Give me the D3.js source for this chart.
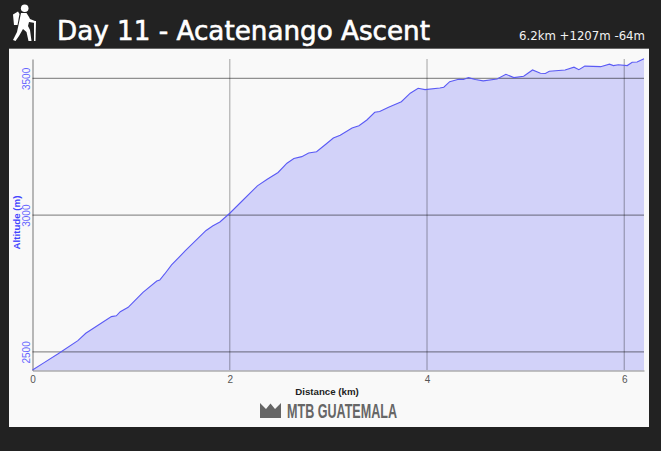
<!DOCTYPE html>
<html><head><meta charset="utf-8">
<script src="https://cdnjs.cloudflare.com/ajax/libs/d3/7.8.5/d3.min.js"></script>
<style>html,body{margin:0;padding:0;background:#222}svg{display:block}</style>
</head><body><svg id="c" width="661" height="451"></svg>
<script>
const titleText = "Day 11 - Acatenango Ascent";
const statsText = "6.2km +1207m -64m";
const brandText = "MTB GUATEMALA";
const xLabel = "Distance (km)";
const yLabel = "Altitude (m)";
const xTicks = [0,2,4,6];
const yTicks = [2500,3000,3500];
const distance = [0,0.11,0.26,0.46,0.54,0.68,0.80,0.85,0.89,0.97,1.12,1.26,1.29,1.34,1.41,1.55,1.76,1.83,1.90,2.00,2.12,2.28,2.38,2.49,2.58,2.65,2.73,2.80,2.88,2.98,3.05,3.12,3.24,3.31,3.39,3.47,3.52,3.61,3.74,3.83,3.91,3.98,4.13,4.17,4.23,4.32,4.37,4.42,4.49,4.57,4.71,4.80,4.88,4.98,5.07,5.15,5.20,5.24,5.40,5.49,5.54,5.60,5.76,5.85,5.89,5.94,6.03,6.08,6.13,6.20];
const altitude = [2434,2459,2493,2541,2568,2601,2629,2632,2647,2663,2718,2759,2763,2785,2818,2870,2944,2961,2975,3007,3050,3107,3131,3156,3190,3207,3214,3227,3232,3261,3282,3292,3319,3327,3348,3376,3379,3395,3415,3446,3464,3459,3465,3468,3488,3497,3496,3503,3496,3491,3498,3515,3503,3508,3531,3519,3518,3526,3531,3541,3532,3545,3543,3552,3547,3550,3547,3559,3560,3572];

const svg = d3.select("#c");
svg.append("rect").attr("width",661).attr("height",451).attr("fill","#222");
svg.append("rect").attr("x",9).attr("y",48).attr("width",640).attr("height",379).attr("fill","#f9f9f9");
svg.append("rect").attr("x",9).attr("y",48).attr("width",640).attr("height",1).attr("fill","#666");

const x = d3.scaleLinear().domain([0,6.2]).range([32.5,644]);
const y = d3.scaleLinear().domain([2432,3571]).range([370.5,59]);
const pts = distance.map((d,i)=>[d,altitude[i]]);

svg.append("path").datum(pts).attr("fill","#d2d2f9")
  .attr("d",d3.area().x(d=>x(d[0])).y0(y.range()[0]).y1(d=>y(d[1])));

const gx = svg.append("g").attr("transform","translate(0,370.5)")
  .call(d3.axisBottom(x).tickValues(xTicks).tickSize(0).tickPadding(5).tickFormat(d3.format("d")));
gx.select(".domain").attr("stroke","#8a8a8a").attr("stroke-width",1.2);
gx.selectAll("text").attr("fill","#555").attr("font-family","Liberation Sans").attr("font-size",10);

const gy = svg.append("g").attr("transform","translate(32.5,0)")
  .call(d3.axisLeft(y).tickValues(yTicks).tickSize(0).tickFormat(d3.format("d")));
gy.select(".domain").attr("stroke","#8a8a8a").attr("stroke-width",1.2);
gy.selectAll("text").attr("fill","#6666ff").attr("font-family","Liberation Sans").attr("font-size",10)
  .attr("text-anchor","middle").attr("dy",0).attr("x",0).attr("y",0)
  .attr("transform","translate(-2.5,0) rotate(-90)");

svg.append("g").selectAll("line").data(xTicks.filter(d=>d>0)).join("line")
  .attr("x1",d=>x(d)).attr("x2",d=>x(d)).attr("y1",59).attr("y2",370)
  .attr("stroke","#000").attr("stroke-opacity",.27).attr("stroke-width",1.3);
svg.append("g").selectAll("line").data(yTicks).join("line")
  .attr("x1",32.5).attr("x2",644).attr("y1",d=>y(d)).attr("y2",d=>y(d))
  .attr("stroke","#000").attr("stroke-opacity",.42).attr("stroke-width",1.3);

svg.append("path").datum(pts).attr("fill","none").attr("stroke","#5a5af5").attr("stroke-width",1.1)
  .attr("d",d3.line().x(d=>x(d[0])).y(d=>y(d[1])));

svg.append("text").text(titleText).attr("x",57).attr("y",39.5).attr("fill","#fff").attr("stroke","#fff").attr("stroke-width",.6)
  .attr("font-family","DejaVu Sans").attr("font-size",26.7).attr("font-weight",400)
  .attr("textLength",373).attr("lengthAdjust","spacingAndGlyphs");
svg.append("text").text(statsText).attr("x",519).attr("y",39.5).attr("fill","#f2f2f2")
  .attr("font-family","DejaVu Sans").attr("font-size",12.5)
  .attr("textLength",126).attr("lengthAdjust","spacingAndGlyphs");

svg.append("text").text(xLabel).attr("x",327).attr("y",395).attr("text-anchor","middle").attr("fill","#222")
  .attr("font-family","Liberation Sans").attr("font-weight",700).attr("font-size",9.7);
svg.append("text").text(yLabel).attr("transform","translate(19.5,222.5) rotate(-90)").attr("text-anchor","middle").attr("fill","#4444ff")
  .attr("font-family","Liberation Sans").attr("font-weight",700).attr("font-size",9.7);

// brand
svg.append("path").attr("fill","#666").attr("d","M260,403 L266,409 L270.5,403.5 L275,409 L281,403 L281,418 L260,418 Z");
svg.append("text").text(brandText).attr("x",287).attr("y",418.3).attr("fill","#666")
  .attr("font-family","Liberation Sans Narrow, Liberation Sans").attr("font-weight",700).attr("font-size",20)
  .attr("textLength",110).attr("lengthAdjust","spacingAndGlyphs");

// hiker icon
const hk = svg.append("g").attr("fill","#fff");
hk.append("circle").attr("cx",24.7).attr("cy",8.3).attr("r",3.8);
hk.append("path").attr("d","M13,14.5 L18,11.5 L19.5,14 L17.5,25 L14,25 Z");
hk.append("path").attr("d","M21,13 L26.5,13 L29,17 L30,19 L35,21 L35,23 L29,22 L28,26 L30,30 L31.5,41 L28.5,41 L26.5,32 L23,29 L19,36 L15.5,41 L13,40 L17,32 L18.5,25 Z");
hk.append("path").attr("d","M34,21 L36,21 L35.5,41 L34,41 Z");
</script></body></html>
